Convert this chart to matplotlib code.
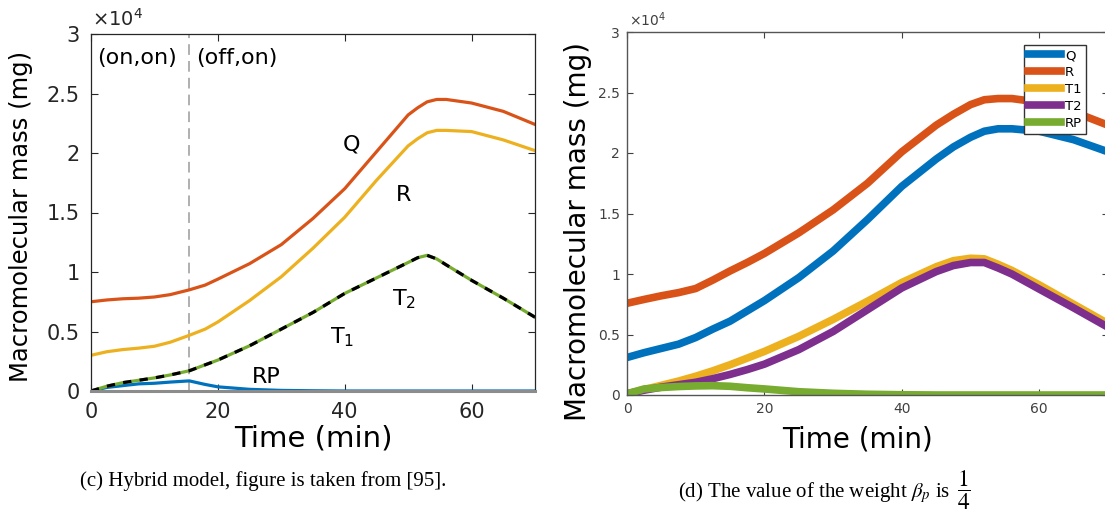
import matplotlib
matplotlib.use("Agg")
import matplotlib.pyplot as plt

plt.rcParams['mathtext.fontset'] = 'stix'

# ---- panel (c): hybrid model ----
t_c = [0, 2.5, 5, 7.5, 10, 12.5, 15.5, 18, 20, 25, 30, 35, 40, 45, 50, 51.5, 53, 54.5, 56, 60, 65, 70]
q_c = [0.75, 0.765, 0.775, 0.78, 0.79, 0.81, 0.85, 0.89, 0.94, 1.07, 1.23, 1.45, 1.70, 2.01, 2.32, 2.38, 2.43, 2.45, 2.45, 2.42, 2.35, 2.24]
r_c = [0.30, 0.33, 0.348, 0.36, 0.376, 0.41, 0.468, 0.52, 0.58, 0.76, 0.96, 1.20, 1.46, 1.77, 2.06, 2.12, 2.17, 2.19, 2.19, 2.18, 2.11, 2.02]
t_lines_c = [0, 0.04, 0.07, 0.09, 0.11, 0.135, 0.17, 0.22, 0.26, 0.38, 0.52, 0.66, 0.82, 0.95, 1.08, 1.12, 1.14, 1.11, 1.06, 0.93, 0.78, 0.62]
rp_c = [0, 0.03, 0.045, 0.06, 0.065, 0.075, 0.085, 0.055, 0.035, 0.014, 0.005, 0.002, 0, 0, 0, 0, 0, 0, 0, 0, 0, 0]
switch_time = 15.5

# ---- panel (d): weight beta_p = 1/4 ----
t_d = [0, 2.5, 5, 7.5, 10, 12.5, 15, 17.5, 20, 25, 30, 35, 40, 45, 47.5, 50, 52, 54, 56, 60, 65, 70]
q_d = [0.31, 0.35, 0.385, 0.42, 0.475, 0.545, 0.61, 0.695, 0.78, 0.97, 1.19, 1.45, 1.725, 1.95, 2.05, 2.13, 2.18, 2.20, 2.20, 2.18, 2.11, 2.01]
r_d = [0.758, 0.79, 0.82, 0.846, 0.88, 0.95, 1.025, 1.095, 1.17, 1.34, 1.53, 1.75, 2.01, 2.23, 2.32, 2.40, 2.44, 2.45, 2.45, 2.42, 2.34, 2.23]
t1_d = [0.01, 0.045, 0.08, 0.115, 0.155, 0.20, 0.25, 0.305, 0.36, 0.485, 0.625, 0.775, 0.93, 1.06, 1.11, 1.13, 1.125, 1.08, 1.03, 0.91, 0.75, 0.59]
t2_d = [0.01, 0.04, 0.065, 0.085, 0.105, 0.135, 0.17, 0.21, 0.255, 0.375, 0.525, 0.705, 0.885, 1.02, 1.07, 1.095, 1.095, 1.05, 1.0, 0.875, 0.72, 0.56]
rp_d = [0.01, 0.05, 0.062, 0.07, 0.075, 0.077, 0.072, 0.06, 0.05, 0.027, 0.014, 0.006, 0.002, 0, 0, 0, 0, 0, 0, 0, 0, 0]
legend_labels = ['Q', 'R', 'T1', 'T2', 'RP']

yticks = [0, 0.5, 1, 1.5, 2, 2.5, 3]
ytick_labels = ['0', '0.5', '1', '1.5', '2', '2.5', '3']
xticks = [0, 20, 40, 60]

blue = '#0072BD'
red = '#D95319'
yellow = '#EDB120'
purple = '#7E2F8E'
green = '#77AC30'

fig = plt.figure(figsize=(11.05, 5.15), dpi=100)

# left panel
ax0 = fig.add_axes([91 / 1105, 1 - 391 / 515, 444 / 1105, 357 / 515])
ax0.axvline(switch_time, color='#9a9a9a', lw=1.1, dashes=(7, 4), zorder=1)
ax0.plot(t_c, q_c, color=red, lw=2.3)
ax0.plot(t_c, r_c, color=yellow, lw=2.3)
ax0.plot(t_c, rp_c, color=blue, lw=2.3)
ax0.plot(t_c, t_lines_c, color=green, lw=2.3)
ax0.plot(t_c, t_lines_c, color='black', lw=2.3, dashes=(2.6, 2.6))
ax0.set_xlim(0, 70)
ax0.set_ylim(0, 3)
ax0.set_xticks(xticks)
ax0.set_yticks(yticks)
ax0.set_yticklabels(ytick_labels)
ax0.tick_params(direction='in', top=True, right=True, labelsize=15, colors='#262626',
                length=5, pad=8)
for s in ['left', 'top', 'right']:
    ax0.spines[s].set_color('#262626')
    ax0.spines[s].set_linewidth(0.9)
ax0.spines['bottom'].set_color('#8c8c8c')
ax0.spines['bottom'].set_linewidth(2.2)
ax0.text(0.003, 1.012, r'$\times10^4$', transform=ax0.transAxes, fontsize=14,
         color='#262626', ha='left', va='bottom', math_fontfamily='dejavusans')
ax0.set_xlabel('Time (min)', fontsize=21)
ax0.xaxis.set_label_coords(0.5, -0.095)
ax0.set_ylabel('Macromolecular mass (mg)', fontsize=17.5)
ax0.yaxis.set_label_coords(-0.13, 0.49)

fs = 16
ax0.text(1.0, 2.80, '(on,on)', fontsize=fs, va='center', ha='left')
ax0.text(16.5, 2.80, '(off,on)', fontsize=fs, va='center', ha='left')
ax0.text(41, 2.07, 'Q', fontsize=fs, va='center', ha='center')
ax0.text(49.2, 1.65, 'R', fontsize=fs, va='center', ha='center')
ax0.text(47.5, 0.78, r'T$_\mathregular{2}$', fontsize=fs, va='center', ha='left')
ax0.text(37.7, 0.46, r'T$_\mathregular{1}$', fontsize=fs, va='center', ha='left')
ax0.text(27.7, 0.12, 'RP', fontsize=fs, va='center', ha='center')

# right panel
ax1 = fig.add_axes([627 / 1105, 1 - 395 / 515, 481 / 1105, 363 / 515])
ax1.plot(t_d, q_d, color=blue, lw=5.5, label=legend_labels[0])
ax1.plot(t_d, r_d, color=red, lw=5.5, label=legend_labels[1])
ax1.plot(t_d, t1_d, color=yellow, lw=5.5, label=legend_labels[2])
ax1.plot(t_d, t2_d, color=purple, lw=5.5, label=legend_labels[3])
ax1.plot(t_d, rp_d, color=green, lw=5.5, label=legend_labels[4])
ax1.set_xlim(0, 70)
ax1.set_ylim(0, 3)
ax1.set_xticks(xticks)
ax1.set_yticks(yticks)
ax1.set_yticklabels(ytick_labels)
ax1.tick_params(direction='in', top=True, right=True, labelsize=10, colors='#404040',
                length=4, pad=5)
for s in ax1.spines.values():
    s.set_color('#555555')
    s.set_linewidth(1.0)
ax1.text(0.005, 1.008, r'$\times10^4$', transform=ax1.transAxes, fontsize=10,
         color='#404040', ha='left', va='bottom', math_fontfamily='dejavusans')
ax1.set_xlabel('Time (min)', fontsize=20)
ax1.xaxis.set_label_coords((858 - 627) / 481, -0.085)
ax1.set_ylabel('Macromolecular mass (mg)', fontsize=20)
ax1.yaxis.set_label_coords(-0.073, 0.45)
leg = ax1.legend(loc='upper right', bbox_to_anchor=(0.954, 0.964), borderaxespad=0,
                 fontsize=9.5, handlelength=2.5, handletextpad=0.3, labelspacing=0.3,
                 borderpad=0.3, fancybox=False, framealpha=1)
leg.get_frame().set_edgecolor('#333333')
leg.get_frame().set_linewidth(1.0)

# captions
fig.text(263 / 1105, 1 - 481 / 515, '(c) Hybrid model, figure is taken from [95].',
         fontsize=15, family='Liberation Serif', ha='center', va='center')
fig.text(950 / 1105, 1 - 493 / 515, r'(d) The value of the weight $\beta_p$ is',
         fontsize=15, family='Liberation Serif', ha='right', va='center')
fig.text(957 / 1105, 1 - 490 / 515, r'$\dfrac{1}{4}$',
         fontsize=17, ha='left', va='center')

fig.savefig('out.png', dpi=100)
